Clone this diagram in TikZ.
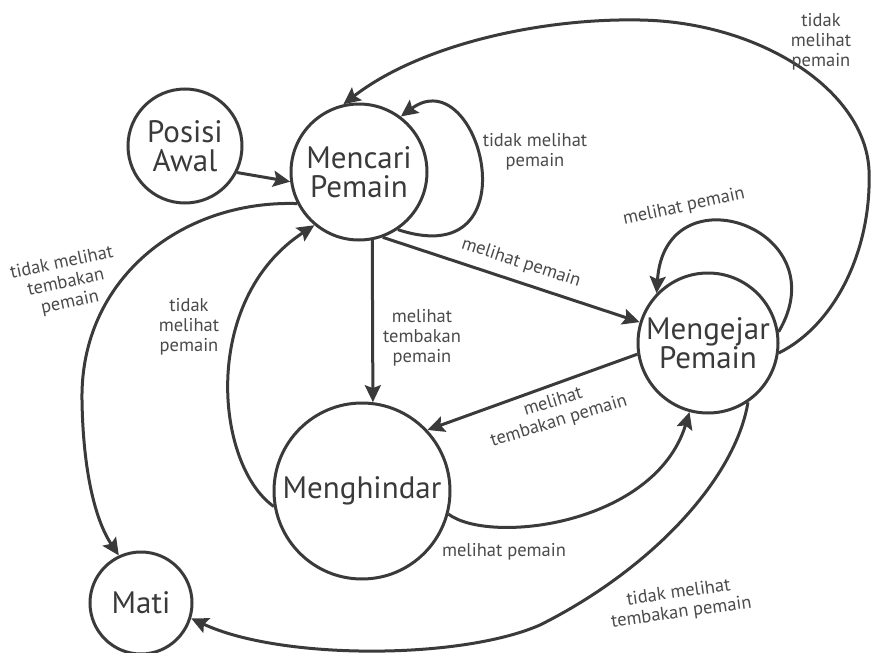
\documentclass[tikz,border=0pt]{standalone}
\usepackage{fontspec}
\setmainfont{PT Sans}
\usetikzlibrary{arrows.meta}
\definecolor{ink}{HTML}{3A3A3A}
\definecolor{labelink}{HTML}{4A4A4A}
\tikzset{
  state/.style={circle, draw=ink, line width=3pt, inner sep=0pt, text=ink,
    align=center, font=\fontsize{31}{29}\selectfont},
  trans/.style={draw=ink, line width=3pt,
    -{Stealth[length=17pt,width=16pt,inset=3pt]}},
  lbl/.style={font=\fontsize{18.5}{20}\selectfont, text=labelink,
    align=center, inner sep=0pt},
}
\begin{document}
\begin{tikzpicture}[x=1pt,y=-1pt]
\useasboundingbox (0,0) rectangle (871,653);

% states
\node[state, minimum size=114pt] (posisi) at (185,146) {Posisi\\Awal};
\node[state, minimum size=136pt] (mencari) at (359,172) {Mencari\\Pemain};
\node[state, minimum size=140pt] (mengejar) at (708,343) {Mengejar\\Pemain};
\node[state, minimum size=176pt] (menghindar) at (362,491) {Menghindar};
\node[state, minimum size=102pt] (mati) at (141,603) {Mati};

% waypoints of the long curves
\coordinate (r1) at (869,170);
\coordinate (r2) at (640,20);
\coordinate (w1) at (82,400);
\coordinate (w2) at (540,625);

% transitions
\draw[trans] (posisi.-27) -- (mencari.188);

\draw[trans] (mencari.-56) .. controls (535,275) and (480,58) .. (mencari.53);
\node[lbl] (lself1) at (535,152) {tidak melihat\\pemain};

\draw[trans] (mengejar.-8) .. controls (835,325) and (872,250) .. (r1)
  .. controls (865,90) and (760,22) .. (r2)
  .. controls (540,18) and (420,45) .. (mencari.103);
\node[lbl] (ltop) at (821,42) {tidak\\melihat\\pemain};

\draw[trans] (mencari.-70) -- (mengejar.163);
\node[lbl, rotate=-18] (lmp1) at (521,263) {melihat pemain};

\draw[trans] (mencari.-79) -- (menghindar.83);
\node[lbl] (lmtp1) at (422,338) {melihat\\tembakan\\pemain};

\draw[trans] (mengejar.-171) -- (menghindar.43);
\node[lbl, rotate=17] (lmtp2) at (556,412) {melihat\\tembakan pemain};

\draw[trans] (menghindar.190) .. controls (215,465) and (200,300) .. (mencari.-130);
\node[lbl] (ltmp1) at (189,327) {tidak\\melihat\\pemain};

\draw[trans] (menghindar.-15) .. controls (490,545) and (655,525) .. (mengejar.-105);
\node[lbl] (lmp2) at (504,552) {melihat pemain};

\draw[trans] (mencari.207) .. controls (180,200) and (80,280) .. (w1)
  .. controls (83,470) and (95,520) .. (mati.115);
\node[lbl, rotate=12] (ltmtp1) at (66,283) {tidak melihat\\tembakan\\pemain};

\draw[trans] (mengejar.-56) .. controls (735,480) and (650,570) .. (w2)
  .. controls (460,660) and (280,660) .. (mati.-17);
\node[lbl, rotate=8] (ltmtp2) at (680,603) {tidak melihat\\tembakan pemain};

\draw[trans] (mengejar.9) .. controls (840,228) and (665,168) .. (mengejar.136);
\node[lbl, rotate=12] (lself2) at (684,207) {melihat pemain};
\end{tikzpicture}
\end{document}
